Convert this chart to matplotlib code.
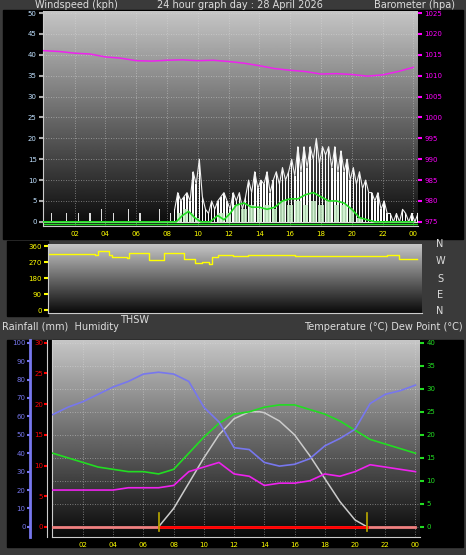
import numpy as np
import matplotlib
matplotlib.use("Agg")
import matplotlib.pyplot as plt

# ── Data ────────────────────────────────────────────────────────────────
# wind gusts, 15 minute samples from 00:00 to 08:30
gust = [0, 0, 2, 0, 0, 0, 2, 0, 0, 2, 0, 0, 2, 0, 0, 3,
        0, 0, 2, 0, 0, 0, 3, 0, 0, 2, 0, 0, 0, 0, 3, 0,
        0, 2, 0]
gust_t = [i * 0.25 for i in range(len(gust))]
# gusts from 08:30 onward, 12 minute samples
gust_day = [3, 7, 5, 6, 7, 5, 12, 9, 15, 6, 3, 2, 5, 3, 5, 6,
            7, 5, 3, 7, 5, 7, 3, 6, 10, 7, 12, 8, 10, 9, 12, 7,
            10, 12, 9, 13, 10, 12, 15, 11, 18, 12, 18, 13, 18, 15, 20, 14,
            18, 16, 18, 13, 18, 12, 17, 12, 15, 10, 13, 9, 12, 8, 10, 7,
            7, 5, 7, 3, 5, 2, 2, 0, 2, 0, 3, 2, 0, 2, 0, 2]
gust_day_t = [8.5 + i * 0.2 for i in range(len(gust_day))]
avg_t = [0, 8.6, 9.0, 9.4, 9.8, 10.2, 10.8, 11.3, 11.7, 12.1, 12.5, 13.0,
         13.5, 14.0, 14.5, 15.0, 15.5, 16.0, 16.5, 17.0, 17.5, 18.0, 18.5,
         19.0, 19.5, 20.0, 20.5, 21.0, 21.5, 24.0]
avg_wind = [0, 0, 1.5, 2.5, 1, 0, 0, 1.5, 0.5, 2, 4, 4.5, 3.5, 3.5, 3,
            3.5, 5, 5.5, 5.5, 6.5, 7, 6, 5, 5, 4.5, 3, 1, 0.5, 0, 0]
speed_t = [8.8, 9.2, 9.6, 10.0, 11.5, 12.0, 12.5, 13.0, 13.5, 14.0, 14.5,
           15.0, 15.5, 16.0, 16.5, 17.0, 17.5, 18.0, 18.5, 19.0, 19.5, 20.0,
           20.5, 21.0]
speed = [2, 3, 2, 1, 2, 2, 4, 3, 4, 3, 4, 3, 5, 4, 5, 4, 5, 4, 5, 4, 4, 3, 1, 0]

baro_t = [0, 1, 2, 3, 4, 5, 6, 7, 8, 9, 10, 11, 12, 13, 14, 15, 16, 17,
          18, 19, 20, 21, 22, 23, 24]
baro = [1016, 1015.8, 1015.4, 1015.2, 1014.5, 1014.2, 1013.6, 1013.5,
        1013.7, 1013.8, 1013.6, 1013.7, 1013.4, 1013.0, 1012.4, 1011.7,
        1011.3, 1011.0, 1010.4, 1010.5, 1010.3, 1009.9, 1010.2, 1011.0, 1012.0]

dir_t = [0, 2.0, 3.0, 3.2, 3.9, 4.1, 5.1, 5.2, 5.6, 6.3, 6.5, 7.4, 7.5,
         8.0, 8.2, 8.8, 9.0, 9.5, 10.0, 10.4, 10.6, 11.0, 12.0, 13.0,
         16.0, 20.0, 22.0, 22.7, 22.8, 24.0]
wdir = [315, 315, 310, 330, 310, 300, 295, 320, 320, 320, 285, 285, 320,
        320, 320, 290, 290, 265, 270, 260, 300, 310, 305, 310, 305, 305,
        310, 310, 290, 290]

hour = [0, 1, 2, 3, 4, 5, 6, 7, 8, 9, 10, 11, 12, 13, 14, 15, 16, 17, 18,
        19, 20, 21, 22, 23, 24]
humidity = [61, 65, 68, 72, 76, 79, 83, 84, 83, 79, 65, 57, 43, 42, 35, 33,
            34, 37, 44, 48, 53, 67, 72, 74, 77]
temperature = [16, 15, 14, 13, 12.5, 12, 12, 11.5, 12.5, 16, 19.5, 22.5,
               24.5, 25, 26, 26.5, 26.5, 25.5, 24.5, 23, 21, 19, 18, 17, 16]
dewpoint = [8, 8, 8, 8, 8, 8.5, 8.5, 8.5, 9, 12, 13, 14, 11.5, 11, 9, 9.5,
            9.5, 10, 11.5, 11, 12, 13.5, 13, 12.5, 12]
thsw_t = [7.0, 8, 9, 10, 11, 12, 13, 13.7, 14, 15, 16, 17, 18, 19, 20, 20.8]
thsw = [0, 4, 9.5, 15, 20, 23.5, 25, 25, 24.8, 23, 20, 15.5, 10.5, 5.5, 1.5, 0]
sunrise, sunset = 7.0, 20.8

xticks = [2, 4, 6, 8, 10, 12, 14, 16, 18, 20, 22, 24]
xlabels = ["02", "04", "06", "08", "10", "12", "14", "16", "18", "20", "22", "00"]

W, H = 466, 555
BG = "#3a3a3a"
FS = 5


def box(x0, y0, x1, y1):
    return [x0 / W, 1 - y1 / H, (x1 - x0) / W, (y1 - y0) / H]


def style(ax, ylim, yticks, ycolor):
    grad = np.linspace(1, 0, 256).reshape(-1, 1)
    ax.imshow(grad, extent=[0, 1, 0, 1], transform=ax.transAxes, aspect="auto",
              cmap="gray", vmin=-0.05, vmax=1.3, zorder=0)
    ax.set_xlim(-0.05, 24.3)
    ax.set_ylim(*ylim)
    ax.set_xticks(xticks)
    ax.set_xticklabels(xlabels, color="yellow", fontsize=FS)
    ax.set_yticks(yticks)
    ax.tick_params(axis="y", colors=ycolor, labelsize=FS, length=3, width=1.5, pad=1.5)
    ax.tick_params(axis="x", colors="#777777", labelcolor="yellow", length=0)
    ax.grid(True, color="#dddddd", linestyle=(0, (1, 2)), linewidth=0.6, alpha=0.6)
    for s in ax.spines.values():
        s.set_visible(False)
    ax.spines["bottom"].set_visible(True)
    ax.spines["bottom"].set_color("#cccccc")
    ax.spines["left"].set_visible(True)
    ax.spines["left"].set_color("#cccccc")


fig = plt.figure(figsize=(W / 100, H / 100), dpi=100, facecolor=BG)
for rect in [box(3, 10, 463, 239), box(7, 241, 48, 316), box(7, 340, 463, 547)]:
    fig.patches.append(plt.Rectangle((rect[0], rect[1]), rect[2], rect[3],
                                     transform=fig.transFigure, color="black",
                                     zorder=-10))

# ── Wind + barometer ──────────────────────────────────────────────────
ax = fig.add_axes(box(43, 11, 418, 226))
style(ax, (-1, 50.5), range(0, 51, 5), "white")
ax.tick_params(axis="y", colors="#aaaaaa", labelcolor="#bfe0ff")
ax.bar(gust_t, gust, width=0.07, color="#dddddd", zorder=3)
ax.bar(gust_day_t, gust_day, width=0.1, color="white", zorder=3)
ax.plot(gust_day_t, gust_day, color="#eeeeee", lw=0.8, zorder=3)
ax.bar(speed_t, speed, width=0.35, color="#c8f0c8", alpha=0.85, zorder=3.5)
ax.plot(avg_t, avg_wind, color="#22dd22", lw=1.2, zorder=4)
ax.axhline(0, color="#dddddd", lw=0.8, zorder=2)
ax.axhline(-0.6, color="#22dd22", lw=1, zorder=2)
axb = ax.twinx()
axb.set_ylim(974, 1025.5)
axb.set_yticks(range(975, 1026, 5))
axb.tick_params(axis="y", colors="magenta", labelsize=FS, length=3, width=1.5, pad=1.5)
for s in axb.spines.values():
    s.set_visible(False)
axb.plot(baro_t, baro, color="#ee22ee", lw=1.1)
fig.text(35 / W, 1 - 5 / H, "Windspeed (kph)", color="#dddddd", fontsize=7, va="center")
fig.text(240 / W, 1 - 5 / H, "24 hour graph day : 28 April 2026", color="#dddddd",
         fontsize=7, va="center", ha="center")
fig.text(455 / W, 1 - 5 / H, "Barometer (hpa)", color="#dddddd", fontsize=7,
         va="center", ha="right")

# ── Wind direction ────────────────────────────────────────────────────
axd = fig.add_axes(box(48, 244, 422, 313))
style(axd, (-15, 372), [0, 90, 180, 270, 360], "yellow")
axd.set_xticks([])
axd.grid(False)
axd.step(dir_t, wdir, where="post", color="yellow", lw=1)
for lab, y in zip(["N", "W", "S", "E", "N"], [244, 261, 279, 295, 311]):
    fig.text(440 / W, 1 - y / H, lab, color="#dddddd", fontsize=7, ha="center",
             va="center")

fig.text(2 / W, 1 - 327 / H, "Rainfall (mm)  Humidity", color="#dddddd",
         fontsize=7, va="center")
fig.text(120 / W, 1 - 320 / H, "THSW", color="#dddddd", fontsize=7, va="center")
fig.text(463 / W, 1 - 327 / H, "Temperature (\u00b0C) Dew Point (\u00b0C)",
         color="#dddddd", fontsize=7, va="center", ha="right")

# ── Temperature / humidity ────────────────────────────────────────────
axt = fig.add_axes(box(52, 340, 420, 537))
style(axt, (-2.2, 40.6), range(0, 41, 5), "#22dd22")
axt.plot(hour, temperature, color="#22dd22", lw=1.2, zorder=4)
axt.plot(hour, dewpoint, color="#ee22ee", lw=1.2, zorder=4)
axt.plot(thsw_t, thsw, color="#cccccc", lw=1.1, zorder=3)
axt.plot([0, 24], [0, 0], color="#f08080", lw=2, zorder=4)
axt.plot([sunrise, sunset], [0, 0], color="red", lw=2, zorder=5)
for t in (sunrise, sunset):
    axt.plot([t, t], [-1, 3], color="#bbaa00", lw=1.2, zorder=5)

axh = axt.twinx()
axh.set_ylim(-5.5, 101.5)
axh.yaxis.tick_left()
axh.spines["left"].set_visible(True)
axh.spines["left"].set_position(("outward", 16))
axh.spines["left"].set_color("#7777ee")
axh.spines["left"].set_linewidth(2)
for k in ("right", "top", "bottom"):
    axh.spines[k].set_visible(False)
axh.set_yticks(range(0, 101, 10))
axh.tick_params(axis="y", colors="#7777ee", labelsize=FS, length=2, width=1.5, pad=1)
axh.plot(hour, humidity, color="#7777ee", lw=1.2, zorder=4)

axr = axt.twinx()
axr.set_ylim(-1.65, 30.45)
axr.yaxis.tick_left()
axr.spines["left"].set_visible(True)
axr.spines["left"].set_position(("outward", 3.5))
axr.spines["left"].set_color("#cccccc")
for k in ("right", "top", "bottom"):
    axr.spines[k].set_visible(False)
axr.set_yticks(range(0, 31, 5))
axr.tick_params(axis="y", colors="red", labelsize=FS, length=2, width=1.5, pad=1)

# twinx moves the temperature ticks to the left, put them back right
axt.yaxis.tick_right()
axt.tick_params(axis="y", colors="#22dd22", labelsize=FS, length=3, width=1.5, pad=1.5)

fig.savefig("out.png", dpi=100, facecolor=BG)
